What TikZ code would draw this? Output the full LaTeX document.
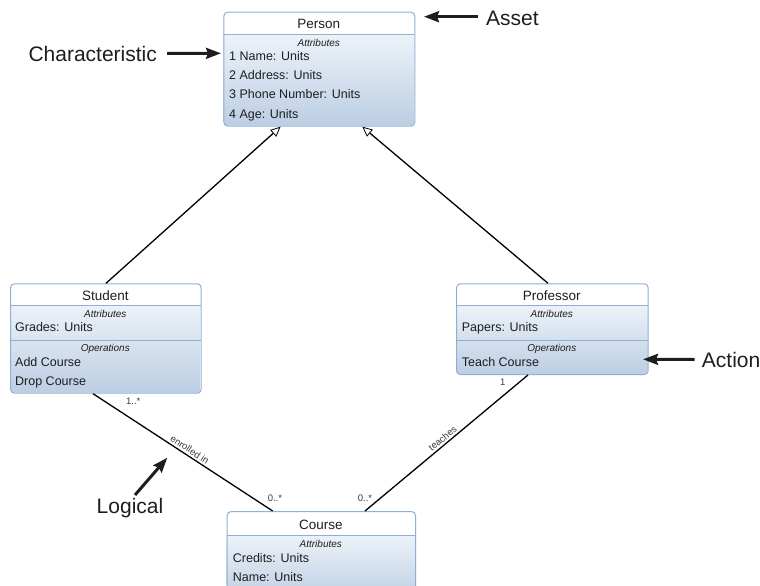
\documentclass[tikz,border=0pt]{standalone}
\usepackage{fontspec}
\setmainfont{Liberation Sans}
\usetikzlibrary{arrows.meta,calc}

\definecolor{boxline}{HTML}{8FB0D4}
\definecolor{bodytop}{HTML}{EDF2F8}
\definecolor{bodybot}{HTML}{BCCEE4}
\definecolor{ink}{HTML}{1E1E1E}
\definecolor{labelink}{HTML}{3C3C3C}

\tikzset{
  member/.style={anchor=base west, inner sep=0pt, font=\fontsize{12.5}{15}\selectfont, text=ink},
  classname/.style={anchor=base, inner sep=0pt, font=\fontsize{13.5}{16}\selectfont, text=ink},
  compartment/.style={anchor=base, inner sep=0pt, font=\fontsize{10}{12}\selectfont\itshape, text=ink},
  classbox/.style={draw=boxline, line width=1pt, rounded corners=4pt, inner sep=0pt, anchor=north west},
  divider/.style={draw=boxline, line width=0.8pt},
  inherit/.style={draw=black, line width=1.3pt,
    -{Triangle[length=10pt, width=9pt, fill=white, line width=0.8pt]}},
  assoc/.style={draw=black, line width=1.3pt},
  mult/.style={font=\fontsize{9.5}{11}\selectfont, text=labelink, inner sep=0pt},
  calloutlabel/.style={font=\fontsize{21}{25}\selectfont, text=ink, inner sep=0pt},
  callout/.style={draw=ink, line width=3pt, -{Stealth[length=15pt, width=11pt, inset=2pt]}},
}

% class frame: name, x1, y1, x2, y2, y of the line under the class name
\newcommand\classframe[6]{%
  \begin{scope}
    \clip[rounded corners=4pt] (#2,#3) rectangle (#4,#5);
    \fill[white] (#2,#3) rectangle (#4,#6);
    \shade[top color=bodytop, bottom color=bodybot] (#2,#6) rectangle (#4,#5);
  \end{scope}
  \node[classbox, minimum width={(#4)-(#2)}, minimum height={(#5)-(#3)}] (#1) at (#2,#3) {};
  \draw[divider] (#2,#6) -- (#4,#6);
}

\begin{document}
\begin{tikzpicture}[x=1pt, y=-1pt]
  \clip (0,0) rectangle (760,586);
  \fill[white] (0,0) rectangle (760,586);

  % Person
  \classframe{person}{223.3}{11.7}{414.3}{125.7}{34.3}
  \node[classname] (personname) at (318.8,29) {Person};
  \node[compartment] (personattr) at (318.8,47) {Attributes};
  \node[member] (pname) at (229,61) {1 Name: Units};
  \node[member] (paddr) at (229,80) {2 Address: Units};
  \node[member] (pphone) at (229,99) {3 Phone Number: Units};
  \node[member] (page) at (229,118) {4 Age: Units};

  % Student
  \classframe{student}{10}{283.3}{200.7}{392.7}{305}
  \draw[divider] (10,340) -- (200.7,340);
  \node[classname] (studentname) at (105.3,300) {Student};
  \node[compartment] (studentattr) at (105.3,317) {Attributes};
  \node[member] (sgrades) at (15,331.7) {Grades: Units};
  \node[compartment] (studentops) at (105.3,351) {Operations};
  \node[member] (sadd) at (15,366) {Add Course};
  \node[member] (sdrop) at (15,385) {Drop Course};

  % Professor
  \classframe{professor}{456}{283.3}{647.7}{374}{305}
  \draw[divider] (456,340) -- (647.7,340);
  \node[classname] (profname) at (551.8,300) {Professor};
  \node[compartment] (profattr) at (551.8,317) {Attributes};
  \node[member] (ppapers) at (461.7,331.7) {Papers: Units};
  \node[compartment] (profops) at (551.8,351) {Operations};
  \node[member] (pteach) at (461.7,366) {Teach Course};

  % Course
  \classframe{course}{226.7}{511}{415}{600}{535}
  \node[classname] (coursename) at (320.8,529) {Course};
  \node[compartment] (courseattr) at (320.8,547) {Attributes};
  \node[member] (ccredits) at (232.7,562) {Credits: Units};
  \node[member] (cname) at (232.7,581) {Name: Units};

  % generalisations
  \draw[inherit] ([xshift=96pt]student.north west) -- ([xshift=57.3pt]person.south west);
  \draw[inherit] ([xshift=92pt]professor.north west) -- ([xshift=139pt]person.south west);

  % associations
  \draw[assoc] ([xshift=83pt]student.south west) --
    node[pos=0.52, sloped, above=2pt, mult] (enrolled) {enrolled in}
    ([xshift=46pt]course.north west);
  \draw[assoc] ([xshift=72pt]professor.south west) --
    node[pos=0.5, sloped, above=2pt, mult] (teaches) {teaches}
    ([xshift=138.3pt]course.north west);
  \node[mult] (m1) at (133.3,401.7) {1..*};
  \node[mult] (m2) at (275,498.3) {0..*};
  \node[mult] (m3) at (502.7,382.7) {1};
  \node[mult] (m4) at (365,498.3) {0..*};

  % callouts
  \node[calloutlabel, anchor=west] (charlabel) at (28.3,53.5) {Characteristic};
  \coordinate (chartip) at (221,53.3);
  \draw[callout] ([xshift=10pt]charlabel.east) -- (chartip);

  \node[calloutlabel, anchor=west] (assetlabel) at (486,18.5) {Asset};
  \coordinate (assettip) at (424,16.7);
  \draw[callout] ([xshift=-8pt,yshift=1.8pt]assetlabel.west) -- (assettip);

  \node[calloutlabel, anchor=west] (actionlabel) at (701.7,359.5) {Action};
  \coordinate (actiontip) at (643,359.3);
  \draw[callout] ([xshift=-7pt]actionlabel.west) -- (actiontip);

  \node[calloutlabel] (logicallabel) at (130,508) {Logical};
  \coordinate (logicaltip) at (167.3,457.7);
  \draw[callout] (135,495) -- (logicaltip);
\end{tikzpicture}
\end{document}
